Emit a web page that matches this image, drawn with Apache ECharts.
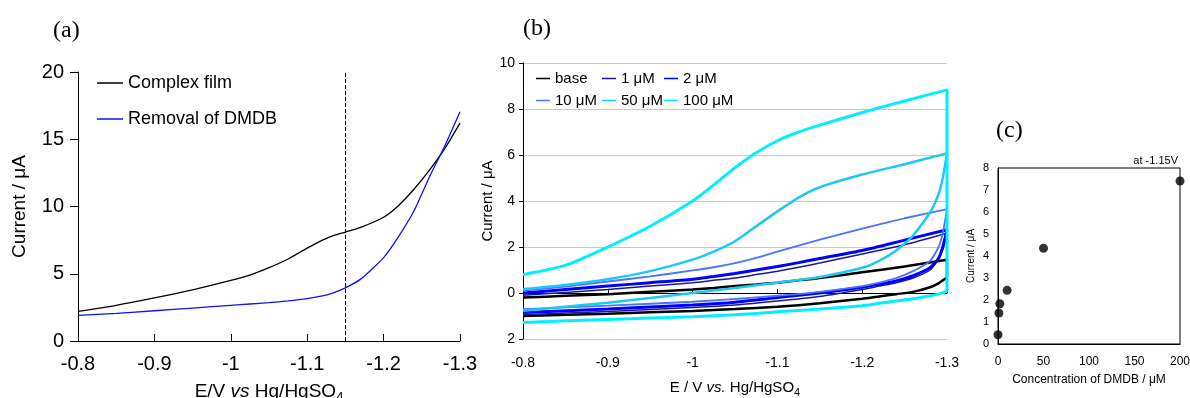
<!DOCTYPE html>
<html>
<head>
<meta charset="utf-8">
<script src="https://cdn.jsdelivr.net/npm/echarts@6/dist/echarts.min.js"></script>
<style>
  html, body { margin: 0; padding: 0; background: #fff; }
  #chart { width: 1190px; height: 398px; }
</style>
</head>
<body>
<div id="chart"></div>
<script>
// Panel (a): LSV of complex film vs. after removal of DMDB
const aE = [-0.8, -0.85, -0.9, -0.95, -1.0, -1.025, -1.05, -1.075, -1.1, -1.12, -1.135, -1.15, -1.17, -1.2, -1.22, -1.24, -1.26, -1.28, -1.3];
const aFilm = [2.2, 2.65, 3.2, 3.8, 4.5, 4.9, 5.45, 6.1, 6.9, 7.5, 7.85, 8.1, 8.45, 9.2, 10.1, 11.3, 12.7, 14.3, 16.2];
const aRemoval = [1.9, 2.05, 2.25, 2.45, 2.65, 2.75, 2.85, 2.98, 3.15, 3.35, 3.6, 3.95, 4.6, 6.2, 7.8, 9.7, 12.2, 14.5, 17.05];
const aDashE = -1.145;

// Panel (b): CV loops, forward branch then return branch
const bUpE = [-0.8, -0.85, -0.9, -0.95, -1.0, -1.025, -1.05, -1.075, -1.1, -1.125, -1.15, -1.2, -1.25, -1.3];
const bLowE = [-1.3, -1.295, -1.29, -1.28, -1.26, -1.24, -1.22, -1.2, -1.15, -1.1, -1.05, -1.0, -0.9, -0.8];
const bNames = ["base", "1 μM", "2 μM", "10 μM", "50 μM", "100 μM"];
const bColors = ["#000000", "#1a1a8c", "#0000ff", "#4a73ff", "#1ec8f5", "#00f0ff"];
const bUp = [
  [-0.2, -0.12, -0.05, 0.05, 0.15, 0.22, 0.3, 0.37, 0.45, 0.55, 0.65, 0.9, 1.15, 1.45],
  [-0.1, 0.02, 0.15, 0.3, 0.45, 0.55, 0.65, 0.8, 0.95, 1.12, 1.3, 1.7, 2.1, 2.6],
  [0.0, 0.15, 0.3, 0.45, 0.6, 0.72, 0.85, 1.0, 1.15, 1.32, 1.5, 1.85, 2.3, 2.75],
  [0.1, 0.28, 0.5, 0.72, 0.98, 1.12, 1.3, 1.53, 1.8, 2.06, 2.32, 2.8, 3.25, 3.65],
  [0.17, 0.35, 0.6, 0.95, 1.45, 1.8, 2.25, 2.9, 3.55, 4.15, 4.6, 5.15, 5.6, 6.07],
  [0.8, 1.2, 2.0, 2.9, 4.0, 4.7, 5.45, 6.1, 6.62, 7.0, 7.3, 7.85, 8.35, 8.83]
];
const bLow = [
  [0.7, 0.55, 0.42, 0.25, 0.05, -0.05, -0.15, -0.25, -0.45, -0.6, -0.7, -0.78, -0.9, -1.0],
  [2.6, 1.9, 1.5, 1.0, 0.65, 0.45, 0.3, 0.15, -0.15, -0.35, -0.52, -0.63, -0.8, -0.95],
  [2.75, 2.0, 1.5, 1.1, 0.75, 0.52, 0.38, 0.25, 0.0, -0.2, -0.4, -0.52, -0.7, -0.85],
  [3.65, 2.6, 2.0, 1.4, 0.95, 0.65, 0.45, 0.3, 0.05, -0.12, -0.26, -0.38, -0.55, -0.7],
  [6.07, 5.0, 4.3, 3.5, 2.5, 1.85, 1.4, 1.1, 0.7, 0.45, 0.22, 0.0, -0.42, -0.77],
  [0.1, 0.02, -0.05, -0.12, -0.25, -0.35, -0.45, -0.55, -0.7, -0.82, -0.95, -1.03, -1.15, -1.28]
];
const bWidths = [2.5, 1.5, 3, 1.8, 2.5, 3];

// Panel (c): current at -1.15 V vs concentration
const cConc = [0, 1, 2, 10, 50, 200];
const cCur = [0.42, 1.41, 1.83, 2.44, 4.35, 7.41];

const FONT = "Liberation Sans, Arial, sans-serif";
const SERIF = "Liberation Serif, Times New Roman, serif";

const pairs = (xs, ys) => xs.map((x, i) => [x, ys[i]]);

const chart = echarts.init(document.getElementById("chart"));

const bSeries = bNames.map((name, k) => ({
  name: name,
  type: "line",
  xAxisIndex: 1,
  yAxisIndex: 1,
  symbol: "none",
  smooth: 0.2,
  data: pairs(bUpE, bUp[k]).concat(pairs(bLowE, bLow[k])),
  lineStyle: { color: bColors[k], width: bWidths[k] },
  itemStyle: { color: bColors[k] },
}));

const subName = (size) => ({
  n: { fontSize: size, fontFamily: FONT, color: "#000" },
  i: { fontSize: size, fontFamily: FONT, fontStyle: "italic", color: "#000" },
  s: { fontSize: Math.round(size * 0.7), fontFamily: FONT, color: "#000", padding: [Math.round(size * 0.6), 0, 0, 0] },
});

const bLegend = (names, left) => ({
  data: names, orient: "vertical", left: left, top: 66,
  icon: "rect", itemWidth: 14, itemHeight: 1.5, itemGap: 7,
  textStyle: { fontSize: 15, fontFamily: FONT, color: "#000" },
});

const option = {
  animation: false,
  backgroundColor: "#fff",
  textStyle: { fontFamily: FONT, color: "#000" },
  title: [
    { text: "(a)", left: 48, top: 14, textStyle: { fontFamily: SERIF, fontWeight: "normal", fontSize: 24, color: "#000" } },
    { text: "(b)", left: 518, top: 12, textStyle: { fontFamily: SERIF, fontWeight: "normal", fontSize: 24, color: "#000" } },
    { text: "(c)", left: 991, top: 114, textStyle: { fontFamily: SERIF, fontWeight: "normal", fontSize: 24, color: "#000" } },
  ],
  legend: [
    {
      data: ["Complex film", "Removal of DMDB"],
      orient: "vertical",
      left: 92, top: 69,
      icon: "rect", itemWidth: 26, itemHeight: 1.5, itemGap: 18,
      textStyle: { fontSize: 18, fontFamily: FONT, color: "#000" },
    },
    bLegend(["base", "10 μM"], 531),
    bLegend(["1 μM", "50 μM"], 597),
    bLegend(["2 μM", "100 μM"], 659),
  ],
  graphic: [
    { type: "text", right: 12, top: 155, style: { text: "at -1.15V", fontSize: 11, fontFamily: FONT, fill: "#000" } },
  ],
  grid: [
    { left: 78, top: 72, width: 382, height: 269, containLabel: false, outerBoundsMode: "none" },
    { left: 523, top: 63, width: 424, height: 276, containLabel: false, outerBoundsMode: "none" },
    { left: 998, top: 168, width: 182, height: 176, containLabel: false, outerBoundsMode: "none", show: true, borderColor: "#000", borderWidth: 1 },
  ],
  xAxis: [
    {
      gridIndex: 0, type: "value", min: -1.3, max: -0.8, interval: 0.1, inverse: true,
      name: "{n|E/V }{i|vs}{n| Hg/HgSO}{s|4}", nameLocation: "middle", nameGap: 39,
      nameTextStyle: { rich: subName(19) },
      axisLine: { lineStyle: { color: "#000", width: 1 } },
      axisTick: { inside: true, length: 7, lineStyle: { color: "#000" } },
      axisLabel: { fontSize: 20, color: "#000", margin: 13 },
      splitLine: { show: false },
    },
    {
      gridIndex: 1, type: "value", min: -1.3, max: -0.8, interval: 0.1, inverse: true,
      name: "{n|E / V }{i|vs.}{n| Hg/HgSO}{s|4}", nameLocation: "middle", nameGap: 39,
      nameTextStyle: { rich: subName(15) },
      axisLine: { lineStyle: { color: "#000", width: 1 } },
      axisTick: { inside: true, length: 4, lineStyle: { color: "#000" } },
      axisLabel: { fontSize: 14, color: "#000", margin: 17 },
      splitLine: { show: false },
    },
    {
      gridIndex: 2, type: "value", min: 0, max: 200, interval: 50,
      name: "Concentration of DMDB / μM", nameLocation: "middle", nameGap: 30,
      nameTextStyle: { fontSize: 12, color: "#000" },
      axisLine: { lineStyle: { color: "#000", width: 1 } },
      axisTick: { show: false },
      axisLabel: { fontSize: 12, color: "#000", margin: 12 },
      splitLine: { show: false },
    },
  ],
  yAxis: [
    {
      gridIndex: 0, type: "value", min: 0, max: 20, interval: 5,
      name: "Current / μA", nameLocation: "middle", nameGap: 49,
      nameTextStyle: { fontSize: 19, color: "#000" },
      axisLine: { show: true, lineStyle: { color: "#000", width: 1 } },
      axisTick: { show: true, length: 8, lineStyle: { color: "#000" } },
      axisLabel: { fontSize: 20, color: "#000", margin: 14 },
      splitLine: { show: false },
    },
    {
      gridIndex: 1, type: "value", min: -2, max: 10, interval: 2,
      name: "Current / μA", nameLocation: "middle", nameGap: 27,
      nameTextStyle: { fontSize: 15, color: "#000" },
      axisLine: { show: true, lineStyle: { color: "#000", width: 1 } },
      axisTick: { show: true, length: 4, lineStyle: { color: "#000" } },
      axisLabel: { fontSize: 14, color: "#000", margin: 8, formatter: (v) => String(Math.abs(v)) },
      splitLine: { show: true, lineStyle: { color: "#c8c8c8", width: 1 } },
    },
    {
      gridIndex: 2, type: "value", min: 0, max: 8, interval: 1,
      name: "Current / μA", nameLocation: "middle", nameGap: 22,
      nameTextStyle: { fontSize: 10, color: "#000" },
      axisLine: { show: true, lineStyle: { color: "#000", width: 1 } },
      axisTick: { show: false },
      axisLabel: { fontSize: 11, color: "#000", margin: 9 },
      splitLine: { show: false },
    },
  ],
  series: [
    {
      name: "Complex film", type: "line", xAxisIndex: 0, yAxisIndex: 0,
      symbol: "none", smooth: 0.2,
      data: pairs(aE, aFilm),
      lineStyle: { color: "#000", width: 1.3 }, itemStyle: { color: "#000" },
    },
    {
      name: "Removal of DMDB", type: "line", xAxisIndex: 0, yAxisIndex: 0,
      symbol: "none", smooth: 0.2,
      data: pairs(aE, aRemoval),
      lineStyle: { color: "#1010ff", width: 1.3 }, itemStyle: { color: "#1010ff" },
      markLine: {
        silent: true, symbol: ["none", "none"], label: { show: false },
        lineStyle: { color: "#000", type: "dashed", width: 1 },
        data: [{ xAxis: aDashE }],
      },
    },
    ...bSeries,
    {
      name: "at -1.15V", type: "scatter", xAxisIndex: 2, yAxisIndex: 2,
      symbol: "circle", symbolSize: 9,
      data: pairs(cConc, cCur),
      itemStyle: { color: "#000" },
    },
  ],
};

chart.setOption(option);
window.addEventListener("resize", () => chart.resize());
</script>
</body>
</html>
